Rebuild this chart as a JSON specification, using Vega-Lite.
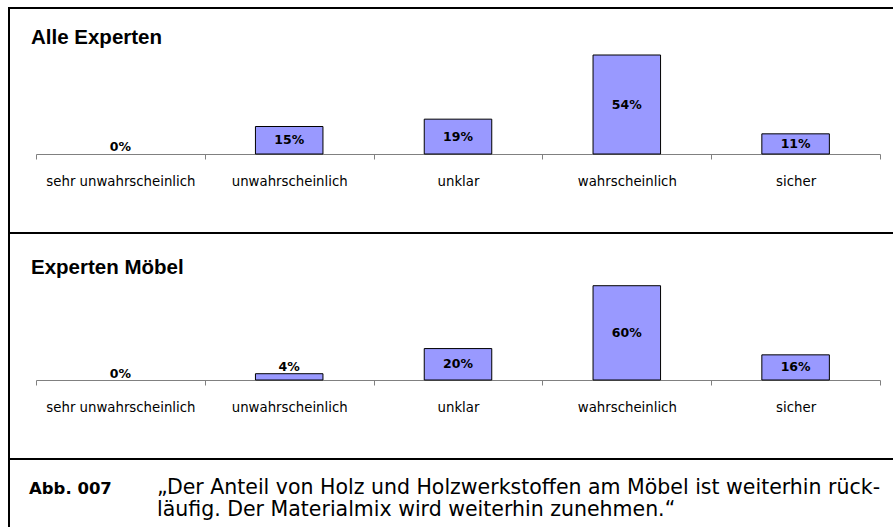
{
  "$schema": "https://vega.github.io/schema/vega-lite/v6.json",
  "padding": {"left": 8, "top": 7, "right": 0, "bottom": 0},
  "autosize": {"type": "pad"},
  "bounds": "flush",
  "spacing": 0,
  "background": "white",
  "datasets": {
    "bars": [
      {"panel": "Alle Experten", "cat": "sehr unwahrscheinlich", "v": 0},
      {"panel": "Alle Experten", "cat": "unwahrscheinlich", "v": 15},
      {"panel": "Alle Experten", "cat": "unklar", "v": 19},
      {"panel": "Alle Experten", "cat": "wahrscheinlich", "v": 54},
      {"panel": "Alle Experten", "cat": "sicher", "v": 11},
      {"panel": "Experten Möbel", "cat": "sehr unwahrscheinlich", "v": 0},
      {"panel": "Experten Möbel", "cat": "unwahrscheinlich", "v": 4},
      {"panel": "Experten Möbel", "cat": "unklar", "v": 20},
      {"panel": "Experten Möbel", "cat": "wahrscheinlich", "v": 60},
      {"panel": "Experten Möbel", "cat": "sicher", "v": 16}
    ],
    "caption": [
      {"part": "a", "line": 1, "txt": "Abb. 007"},
      {"part": "b", "line": 1, "txt": "„Der Anteil von Holz und Holzwerkstoffen am Möbel ist weiterhin rück-"},
      {"part": "b", "line": 2, "txt": "läufig. Der Materialmix wird weiterhin zunehmen.“"}
    ]
  },
  "config": {
    "view": {"stroke": "black", "strokeWidth": 2},
    "axis": {
      "title": null,
      "grid": false,
      "tickBand": "extent",
      "tickSize": 5,
      "tickColor": "#808080",
      "tickWidth": 1,
      "domainColor": "#808080",
      "domainWidth": 1,
      "labelFont": "DejaVu Sans",
      "labelFontSize": 13.3,
      "labelColor": "black",
      "labelAngle": 0,
      "labelPadding": 15
    }
  },
  "vconcat": [
    {
      "width": 886,
      "height": 225,
      "data": {"name": "bars"},
      "transform": [
        {"filter": "datum.panel == 'Alle Experten'"},
        {"calculate": "datum.v < 8 ? datum.v + 4 : datum.v / 2", "as": "lab"},
        {"calculate": "datum.v + '%'", "as": "label"}
      ],
      "title": {"text": "Alle Experten", "anchor": "start", "frame": "group", "offset": -56, "dx": 22, "baseline": "alphabetic", "font": "Liberation Sans", "fontSize": 20.5, "fontWeight": "bold", "color": "black"},
      "layer": [
        {
          "transform": [{"filter": "datum.v > 0"}],
          "mark": {"type": "bar", "fill": "#9999FF", "stroke": "black", "strokeWidth": 1, "width": {"band": 0.4}},
          "encoding": {
            "x": {"field": "cat", "type": "nominal", "scale": {"domain": ["sehr unwahrscheinlich", "unwahrscheinlich", "unklar", "wahrscheinlich", "sicher"], "range": [27, 871], "paddingInner": 0, "paddingOuter": 0}, "axis": {"orient": "bottom", "offset": -79}},
            "y": {"field": "v", "type": "quantitative", "scale": {"domain": [0, 60], "range": [146, 36], "nice": false, "zero": true}, "axis": null}
          }
        },
        {
          "mark": {"type": "text", "font": "DejaVu Sans", "fontWeight": "bold", "fontSize": 12.5, "baseline": "middle", "color": "black"},
          "encoding": {
            "x": {"field": "cat", "type": "nominal"},
            "y": {"field": "lab", "type": "quantitative"},
            "text": {"field": "label"}
          }
        }
      ]
    },
    {
      "width": 886,
      "height": 226,
      "data": {"name": "bars"},
      "transform": [
        {"filter": "datum.panel == 'Experten Möbel'"},
        {"calculate": "datum.v < 8 ? datum.v + 4 : datum.v / 2", "as": "lab"},
        {"calculate": "datum.v + '%'", "as": "label"}
      ],
      "title": {"text": "Experten Möbel", "anchor": "start", "frame": "group", "offset": -61, "dx": 22, "baseline": "alphabetic", "font": "Liberation Sans", "fontSize": 20.5, "fontWeight": "bold", "color": "black"},
      "layer": [
        {
          "transform": [{"filter": "datum.v > 0"}],
          "mark": {"type": "bar", "fill": "#9999FF", "stroke": "black", "strokeWidth": 1, "width": {"band": 0.4}},
          "encoding": {
            "x": {"field": "cat", "type": "nominal", "scale": {"domain": ["sehr unwahrscheinlich", "unwahrscheinlich", "unklar", "wahrscheinlich", "sicher"], "range": [27, 871], "paddingInner": 0, "paddingOuter": 0}, "axis": {"orient": "bottom", "offset": -79}},
            "y": {"field": "v", "type": "quantitative", "scale": {"domain": [0, 70], "range": [147, 37], "nice": false, "zero": true}, "axis": null}
          }
        },
        {
          "mark": {"type": "text", "font": "DejaVu Sans", "fontWeight": "bold", "fontSize": 12.5, "baseline": "middle", "color": "black"},
          "encoding": {
            "x": {"field": "cat", "type": "nominal"},
            "y": {"field": "lab", "type": "quantitative"},
            "text": {"field": "label"}
          }
        }
      ]
    },
    {
      "width": 886,
      "height": 71,
      "data": {"name": "caption"},
      "layer": [
        {
          "transform": [{"filter": "datum.part == 'a'"}],
          "mark": {"type": "text", "font": "DejaVu Sans", "fontWeight": "bold", "fontSize": 16.5, "align": "left", "baseline": "alphabetic", "color": "black"},
          "encoding": {
            "x": {"field": "part", "type": "nominal", "scale": {"type": "point", "domain": ["a", "b"], "range": [20, 148], "padding": 0}, "axis": null},
            "y": {"field": "line", "type": "ordinal", "scale": {"type": "point", "domain": [1, 2], "range": [35, 57], "padding": 0}, "axis": null},
            "text": {"field": "txt"}
          }
        },
        {
          "transform": [{"filter": "datum.part == 'b'"}],
          "mark": {"type": "text", "font": "DejaVu Sans", "fontSize": 20.5, "align": "left", "baseline": "alphabetic", "color": "black"},
          "encoding": {
            "x": {"field": "part", "type": "nominal"},
            "y": {"field": "line", "type": "ordinal"},
            "text": {"field": "txt"}
          }
        }
      ]
    }
  ]
}
